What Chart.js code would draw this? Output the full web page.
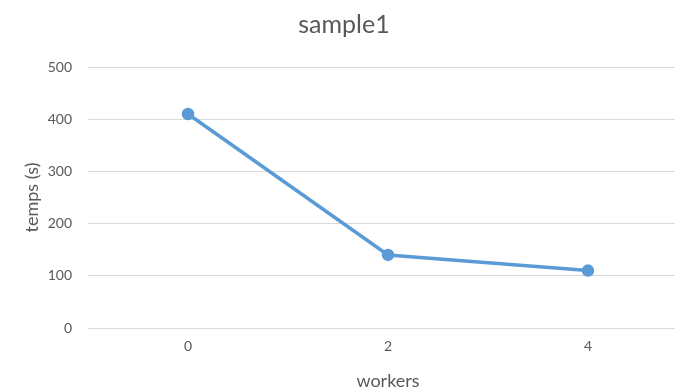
<!DOCTYPE html>
<html>
<head>
<meta charset="utf-8">
<title>sample1</title>
<script src="https://cdn.jsdelivr.net/npm/chart.js"></script>
<style>
  html, body { margin: 0; padding: 0; background: #fff; overflow: hidden; }
  #wrap { width: 700px; height: 392px; }
</style>
</head>
<body>
<div id="wrap"><canvas id="chartCanvas" width="700" height="392"></canvas></div>
<script>
// data
const workers = ['0', '2', '4'];
const temps = [410, 140, 110];
const yTicks = [0, 100, 200, 300, 400, 500];

const grey = '#595959';
const ctx = document.getElementById('chartCanvas').getContext('2d');

new Chart(ctx, {
  type: 'line',
  data: {
    labels: workers,
    datasets: [{
      label: 'temps',
      data: temps,
      borderColor: '#5B9BD5',
      backgroundColor: '#5B9BD5',
      borderWidth: 3.5,
      pointRadius: 4.5,
      pointHoverRadius: 4.5,
      tension: 0,
      fill: false
    }]
  },
  options: {
    responsive: false,
    animation: false,
    layout: { padding: { left: 0, right: 12, top: 0, bottom: 0 } },
    plugins: {
      legend: { display: false },
      tooltip: { enabled: false },
      title: {
        display: true,
        text: 'sample1',
        color: grey,
        font: { family: 'Lato', size: 25, weight: 'normal' },
        padding: { top: 10, bottom: 27 }
      }
    },
    scales: {
      x: {
        offset: true,
        grid: { display: false, drawTicks: false },
        border: { display: false },
        ticks: { color: grey, font: { family: 'Lato', size: 14 }, padding: 10 },
        title: {
          display: true,
          text: 'workers',
          color: grey,
          font: { family: 'Lato', size: 18 },
          padding: { top: 12, bottom: 0 }
        },
        afterFit: (scale) => { scale.height = 64; }
      },
      y: {
        min: 0,
        max: 500,
        afterBuildTicks: (scale) => { scale.ticks = yTicks.map(v => ({ value: v })); },
        grid: { color: '#d9d9d9', lineWidth: 1, drawTicks: false },
        border: { display: false },
        ticks: { color: grey, font: { family: 'Lato', size: 14 }, padding: 16 },
        title: {
          display: true,
          text: 'temps (s)',
          color: grey,
          font: { family: 'Lato', size: 18 },
          padding: { top: 21, bottom: 0 }
        },
        afterFit: (scale) => { scale.width = 88; }
      }
    }
  }
});
</script>
</body>
</html>
